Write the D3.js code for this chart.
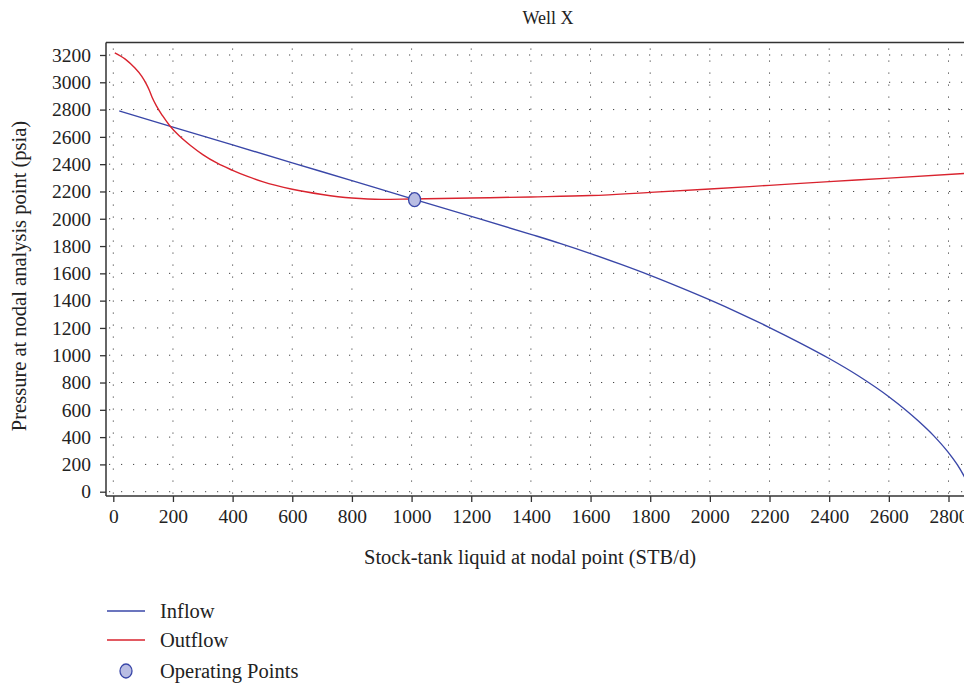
<!DOCTYPE html>
<html>
<head>
<meta charset="utf-8">
<script src="https://cdn.jsdelivr.net/npm/d3@7"></script>
<style>
  body { margin: 0; background: #fff; }
  svg { display: block; font-family: "Liberation Serif", "DejaVu Serif", serif; }
  .axis path, .axis line { stroke: #333; stroke-width: 1.3; }
  .axis text { font-size: 19.5px; fill: #222; font-family: "Liberation Serif", serif; }
  .grid line { stroke: #444; stroke-width: 1; stroke-dasharray: 1.2,10.8; }
</style>
</head>
<body>
<script>
(function() {

//chart data
var xTicks = [0, 200, 400, 600, 800, 1000, 1200, 1400, 1600, 1800, 2000, 2200, 2400, 2600, 2800];
var yTicks = [0, 200, 400, 600, 800, 1000, 1200, 1400, 1600, 1800, 2000, 2200, 2400, 2600, 2800, 3000, 3200];

var inflowQ = [20, 200, 400, 600, 800, 1000, 1200, 1400, 1500, 1600, 1700, 1800, 1900, 2000, 2100, 2200, 2300, 2400, 2500, 2600, 2700, 2750, 2800, 2830, 2860, 2880];
var inflowP = [2790, 2672, 2541, 2410, 2279, 2148, 2018, 1886, 1818, 1745, 1667, 1585, 1497, 1405, 1307, 1203, 1093, 976, 846, 696, 516, 411, 286, 196, 82, -8];

var outflowQ = [5, 40, 70, 95, 110, 120, 130, 145, 165, 190, 220, 260, 300, 350, 400, 450, 500, 600, 700, 800, 900, 1000, 1200, 1400, 1600, 1800, 2000, 2200, 2400, 2600, 2900];
var outflowP = [3216, 3170, 3110, 3045, 2990, 2945, 2890, 2825, 2755, 2680, 2610, 2535, 2470, 2405, 2355, 2310, 2272, 2216, 2178, 2152, 2142, 2145, 2152, 2160, 2170, 2193, 2218, 2245, 2272, 2298, 2338];

var opQ = [1010];
var opP = [2140];

var legendLabels = ["Inflow", "Outflow", "Operating Points"];

//frame
var width = 964, height = 684,
    plotLeft = 106, plotTop = 42.5, plotBottom = 496, plotRight = 964;

var blue = "#3a47a8", red = "#d9232e", dotFill = "#b9bde3";

var svg = d3.select("body").append("svg")
    .attr("width", width)
    .attr("height", height);

//scales
var x = d3.scaleLinear().domain([0, 2800]).range([113.3, 948.5]);
var y = d3.scaleLinear().domain([0, 3200]).range([491.7, 55]);

//clip path for plot area
svg.append("clipPath").attr("id", "plotClip")
  .append("rect")
    .attr("x", plotLeft).attr("y", plotTop)
    .attr("width", plotRight - plotLeft).attr("height", plotBottom - plotTop);

//dotted grid
var grid = svg.append("g").attr("class", "grid");
grid.selectAll(".hgrid")
    .data(yTicks)
    .enter()
    .append("line")
    .attr("x1", plotLeft + 3).attr("x2", plotRight)
    .attr("y1", function(d) { return y(d); })
    .attr("y2", function(d) { return y(d); });
grid.selectAll(".vgrid")
    .data(xTicks)
    .enter()
    .append("line")
    .attr("x1", function(d) { return x(d); })
    .attr("x2", function(d) { return x(d); })
    .attr("y1", plotTop + 6).attr("y2", plotBottom);

//curves
var inflow = inflowQ.map(function(q, i) { return [q, inflowP[i]]; });
var outflow = outflowQ.map(function(q, i) { return [q, outflowP[i]]; });

var line = d3.line()
    .x(function(d) { return x(d[0]); })
    .y(function(d) { return y(d[1]); })
    .curve(d3.curveMonotoneX);

var plot = svg.append("g").attr("clip-path", "url(#plotClip)");

plot.append("path")
    .datum(inflow)
    .attr("d", line)
    .attr("fill", "none")
    .attr("stroke", blue)
    .attr("stroke-width", 1.4);

plot.append("path")
    .datum(outflow)
    .attr("d", line)
    .attr("fill", "none")
    .attr("stroke", red)
    .attr("stroke-width", 1.4);

plot.selectAll(".op")
    .data(opQ)
    .enter()
    .append("ellipse")
    .attr("cx", function(d) { return x(d); })
    .attr("cy", function(d, i) { return y(opP[i]); })
    .attr("rx", 6).attr("ry", 7)
    .attr("fill", dotFill)
    .attr("stroke", blue)
    .attr("stroke-width", 1.3);

//axes
var xAxis = d3.axisBottom(x).tickValues(xTicks).tickFormat(d3.format("d"))
    .tickSize(6).tickPadding(7).tickSizeOuter(0);
var yAxis = d3.axisLeft(y).tickValues(yTicks).tickFormat(d3.format("d"))
    .tickSize(6).tickPadding(9).tickSizeOuter(0);

var gx = svg.append("g")
    .attr("class", "axis")
    .attr("transform", "translate(0," + plotBottom + ")")
    .call(xAxis);
gx.select(".domain").remove();

var gy = svg.append("g")
    .attr("class", "axis")
    .attr("transform", "translate(" + plotLeft + ",0)")
    .call(yAxis);
gy.select(".domain").remove();

//frame lines
svg.append("line")
    .attr("x1", plotLeft).attr("x2", plotLeft)
    .attr("y1", plotTop).attr("y2", plotBottom)
    .attr("stroke", "#333").attr("stroke-width", 1.5);
svg.append("line")
    .attr("x1", plotLeft).attr("x2", plotRight)
    .attr("y1", plotBottom).attr("y2", plotBottom)
    .attr("stroke", "#333").attr("stroke-width", 1.5);
svg.append("line")
    .attr("x1", plotLeft).attr("x2", plotRight)
    .attr("y1", plotTop).attr("y2", plotTop)
    .attr("stroke", "#333").attr("stroke-width", 1.5);

//title and axis labels
svg.append("text")
    .attr("x", 548).attr("y", 24)
    .attr("text-anchor", "middle")
    .attr("font-size", 18)
    .attr("fill", "#222")
    .text("Well X");

svg.append("text")
    .attr("x", 530).attr("y", 564)
    .attr("text-anchor", "middle")
    .attr("font-size", 20.5)
    .attr("fill", "#222")
    .text("Stock-tank liquid at nodal point (STB/d)");

svg.append("text")
    .attr("transform", "translate(26,276) rotate(-90)")
    .attr("text-anchor", "middle")
    .attr("font-size", 20.5)
    .attr("fill", "#222")
    .text("Pressure at nodal analysis point (psia)");

//legend
var legendY = [611, 640, 671];
var legend = svg.append("g");

legend.append("line")
    .attr("x1", 107).attr("x2", 145)
    .attr("y1", legendY[0]).attr("y2", legendY[0])
    .attr("stroke", blue).attr("stroke-width", 1.4);
legend.append("line")
    .attr("x1", 107).attr("x2", 145)
    .attr("y1", legendY[1]).attr("y2", legendY[1])
    .attr("stroke", red).attr("stroke-width", 1.4);
legend.append("ellipse")
    .attr("cx", 126).attr("cy", legendY[2])
    .attr("rx", 6).attr("ry", 7)
    .attr("fill", dotFill)
    .attr("stroke", blue)
    .attr("stroke-width", 1.3);

legend.selectAll(".legendText")
    .data(legendLabels)
    .enter()
    .append("text")
    .attr("x", 160)
    .attr("y", function(d, i) { return legendY[i]; })
    .attr("dy", "0.35em")
    .attr("font-size", 20.5)
    .attr("fill", "#222")
    .text(function(d) { return d; });

})();
</script>
</body>
</html>
